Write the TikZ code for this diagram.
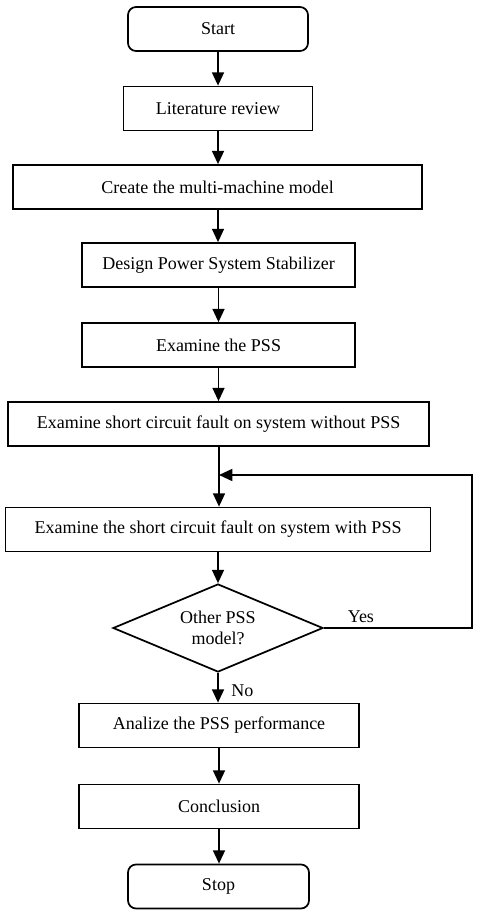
\documentclass[tikz,border=0pt]{standalone}
\usepackage{fontspec}
\setmainfont{Liberation Serif}
\usetikzlibrary{shapes.geometric,arrows.meta}
\tikzset{
  stepbox/.style={draw,line width=1.3pt,inner sep=2pt,minimum height=33pt,align=center},
  termbox/.style={stepbox,rounded corners=6pt},
  askbox/.style={draw,diamond,line width=1.3pt,inner sep=0pt,aspect=2.4,
    minimum width=157.5pt,minimum height=66pt,align=center},
  arr/.style={line width=1.3pt,-{Triangle[length=10pt,width=9pt]}}
}
\begin{document}
\begin{tikzpicture}[x=0.75pt,y=-0.75pt,font=\fontsize{13.5}{15.5}\selectfont]
		\useasboundingbox (0,0) rectangle (476,920);
		\node[termbox,minimum width=135pt] (start) at (218,29) {Start};
		\node[stepbox,minimum width=141.75pt] (lit) at (218,108.5) {Literature review};
		\node[stepbox,minimum width=306.75pt] (model) at (217.5,187) {Create the multi-machine model};
		\node[stepbox,minimum width=204.75pt] (design) at (218.5,265) {Design Power System Stabilizer};
		\node[stepbox,minimum width=204.75pt] (exam) at (218.5,345) {Examine the PSS};
		\node[stepbox,minimum width=315.75pt] (nopss) at (218.5,424) {Examine short circuit fault on system without PSS};
		\node[stepbox,minimum width=318.75pt] (withpss) at (218,529.5) {Examine the short circuit fault on system with PSS};
		\node[askbox] (other) at (218,628) {Other PSS\\model?};
		\node[stepbox,minimum width=210pt] (analize) at (219,725.5) {Analize the PSS performance};
		\node[stepbox,minimum width=210pt] (concl) at (219,806.5) {Conclusion};
		\node[termbox,minimum width=135.75pt] (stop) at (218.5,886.5) {Stop};
		\path
		(472,475) coordinate (corner)
		(219,475) coordinate (join)
		;
		\draw[arr] (start) -- (start |- lit.north);
		\draw[arr] (lit) -- (lit |- model.north);
		\draw[arr] (lit |- model.south) -- (lit |- design.north);
		\draw[arr] (design) -- (design |- exam.north);
		\draw[arr] (exam) -- (exam |- nopss.north);
		\draw[arr] (join |- nopss.south) -- (join |- withpss.north);
		\draw[arr] (withpss) -- (withpss |- other.north);
		\draw[arr] (other) -- node[right,xshift=6pt,yshift=-2pt]{No} (other |- analize.north);
		\draw[arr] (other.east) -- node[above,pos=0.25]{Yes} (other.east -| corner) -- (corner) -- (join);
		\draw[arr] (analize) -- (concl);
		\draw[arr] (concl) -- (concl |- stop.north);
\end{tikzpicture}
\end{document}
